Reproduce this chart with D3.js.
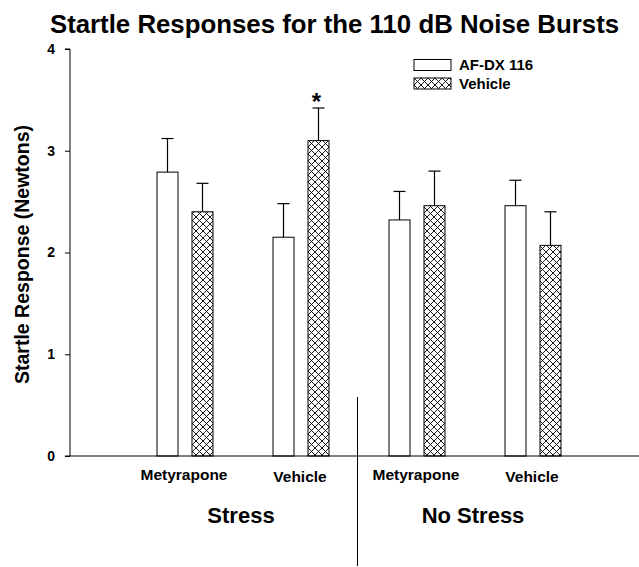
<!DOCTYPE html>
<html>
<head>
<meta charset="utf-8">
<script src="https://cdn.jsdelivr.net/npm/d3@7"></script>
<style>
  body { margin: 0; background: #fff; }
  svg { display: block; font-family: Arial, 'Liberation Sans', sans-serif; font-weight: bold; }
</style>
</head>
<body>
<div id="chart"></div>
<script>
var groups = ['Stress Metyrapone', 'Stress Vehicle', 'No Stress Metyrapone', 'No Stress Vehicle']
var groupLabels = ['Metyrapone', 'Vehicle', 'Metyrapone', 'Vehicle']
var conditions = ['Stress', 'No Stress']
var series = ['AF-DX 116', 'Vehicle']
var afdxMeans = [2.79, 2.15, 2.32, 2.46]
var afdxErrors = [0.33, 0.33, 0.28, 0.25]
var vehicleMeans = [2.40, 3.10, 2.46, 2.07]
var vehicleErrors = [0.28, 0.32, 0.34, 0.33]
var yTicks = [0, 1, 2, 3, 4]

var width = 639
var height = 567

var svg = d3.select('#chart').append('svg')
  .attr('width', width)
  .attr('height', height)

var defs = svg.append('defs')
var hatch = defs.append('pattern')
  .attr('id', 'hatch')
  .attr('patternUnits', 'userSpaceOnUse')
  .attr('width', 7)
  .attr('height', 7)
hatch.append('rect').attr('width', 7).attr('height', 7).attr('fill', '#fff')
hatch.append('path')
  .attr('d', 'M0,0L7,7M7,0L0,7')
  .attr('stroke', '#000')
  .attr('stroke-width', 0.9)

var y = d3.scaleLinear().domain([0, 4]).range([456, 49])
var x = d3.scaleBand().domain(groups).range([127, 591])
var xs = d3.scalePoint().domain(series).range([40.5, 75.5])
var barWidth = 21

var fills = { 'AF-DX 116': '#fff', 'Vehicle': 'url(#hatch)' }

var rows = []
groups.forEach(function (g, i) {
  rows.push({ group: g, series: 'AF-DX 116', value: afdxMeans[i], err: afdxErrors[i] })
  rows.push({ group: g, series: 'Vehicle', value: vehicleMeans[i], err: vehicleErrors[i] })
})

// title
svg.append('text')
  .attr('x', 334.5)
  .attr('y', 33)
  .attr('text-anchor', 'middle')
  .style('font-size', '25.8px')
  .text('Startle Responses for the 110 dB Noise Bursts')

// y axis
var yAxis = d3.axisLeft(y).tickValues(yTicks).tickSize(5).tickPadding(10).tickFormat(d3.format('d'))
var yg = svg.append('g')
  .attr('transform', 'translate(70,0)')
  .call(yAxis)
yg.select('.domain').attr('d', 'M-5,' + y(4) + 'H0V' + y(0) + 'H-5')
yg.selectAll('text')
  .style('font-size', '14px')
  .style('font-family', 'Arial, "Liberation Sans", sans-serif')
  .style('font-weight', 'bold')

svg.append('text')
  .attr('transform', 'translate(29,' + (y(2) + 2) + ') rotate(-90)')
  .attr('text-anchor', 'middle')
  .style('font-size', '19.5px')
  .text('Startle Response (Newtons)')

// bars
svg.append('g').selectAll('rect')
  .data(rows)
  .enter()
  .append('rect')
  .attr('x', function (d) { return x(d.group) + xs(d.series) - barWidth / 2 })
  .attr('y', function (d) { return y(d.value) })
  .attr('width', barWidth)
  .attr('height', function (d) { return y(0) - y(d.value) })
  .attr('fill', function (d) { return fills[d.series] })
  .attr('stroke', '#000')
  .attr('stroke-width', 1)

// error bars
var eb = svg.append('g').attr('stroke', '#000').attr('stroke-width', 1.2)
rows.forEach(function (d) {
  var cx = x(d.group) + xs(d.series)
  eb.append('line')
    .attr('x1', cx).attr('x2', cx)
    .attr('y1', y(d.value)).attr('y2', y(d.value + d.err))
  eb.append('line')
    .attr('x1', cx - 6).attr('x2', cx + 6)
    .attr('y1', y(d.value + d.err)).attr('y2', y(d.value + d.err))
})

// significance star
var star = rows[3]
svg.append('text')
  .attr('x', x(star.group) + xs(star.series) - 2)
  .attr('y', y(star.value + star.err) + 2)
  .attr('text-anchor', 'middle')
  .style('font-size', '24px')
  .text('*')

// x axis line
svg.append('line')
  .attr('x1', 70).attr('x2', width)
  .attr('y1', y(0)).attr('y2', y(0))
  .attr('stroke', '#000')
  .attr('stroke-width', 1)

// group labels
svg.append('g').selectAll('text')
  .data(groups)
  .enter()
  .append('text')
  .attr('x', function (d) { return x(d) + x.bandwidth() / 2 - 1 })
  .attr('y', function (d, i) { return i % 2 ? 481.5 : 480 })
  .attr('text-anchor', 'middle')
  .style('font-size', '15.5px')
  .text(function (d, i) { return groupLabels[i] })

// condition labels
svg.append('g').selectAll('text')
  .data(conditions)
  .enter()
  .append('text')
  .attr('x', function (d, i) { return x(groups[i * 2]) + x.bandwidth() - 2 })
  .attr('y', 523)
  .attr('text-anchor', 'middle')
  .style('font-size', '22px')
  .text(function (d) { return d })

// divider between conditions
var divX = x(groups[2]) - 1.5
svg.append('line')
  .attr('x1', divX).attr('x2', divX)
  .attr('y1', 397).attr('y2', 566)
  .attr('stroke', '#000')
  .attr('stroke-width', 1)

// legend
var legend = svg.append('g').attr('transform', 'translate(414,59.5)')
series.forEach(function (s, i) {
  var row = legend.append('g').attr('transform', 'translate(0,' + i * 18.5 + ')')
  row.append('rect')
    .attr('width', 37)
    .attr('height', 11)
    .attr('fill', fills[s])
    .attr('stroke', '#000')
    .attr('stroke-width', 1)
  row.append('text')
    .attr('x', 45)
    .attr('y', 5.5)
    .attr('dy', '0.36em')
    .style('font-size', '15px')
    .text(s)
})
</script>
</body>
</html>
